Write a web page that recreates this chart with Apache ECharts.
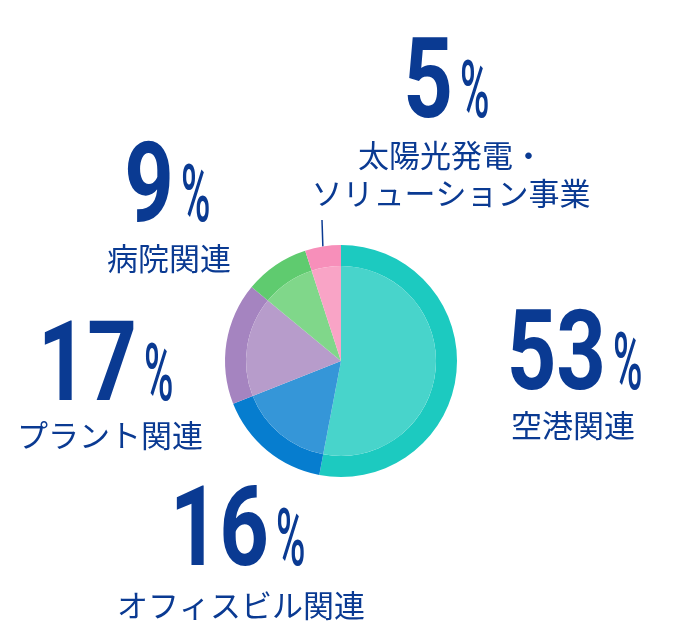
<!DOCTYPE html>
<html><head><meta charset="utf-8">
<script src="https://cdn.jsdelivr.net/npm/echarts@6/dist/echarts.min.js"></script>
<style>html,body{margin:0;padding:0;background:#fff}#c{width:680px;height:640px}</style>
</head><body><div id="c"></div>
<script>
const categories = ['空港関連', 'オフィスビル関連', 'プラント関連', '病院関連', '太陽光発電・\nソリューション事業'];
const values = [53, 16, 17, 9, 5];
const outerColors = ['#1ccac0', '#067dcf', '#a584c0', '#5fcb6f', '#f78fba'];
const innerColors = ['#48d4cb', '#3596d8', '#b79ccb', '#80d78a', '#f9a4c6'];

const TEXT = '#0a3a92';
// label layout: [split x between number and %, number centre y, name centre x, name centre y]
const labelLayoutPos = [
  [609, 350, 573, 425],
  [272, 526, 241, 605],
  [140, 361, 110, 435],
  [177, 182, 169, 258],
  [456, 78, 451, 174]
];

const outerData = categories.map((c, i) => ({
  name: c, value: values[i],
  itemStyle: { color: outerColors[i] },
  label: { show: i === 4 },
  labelLine: { show: i === 4 }
}));
const innerData = categories.map((c, i) => ({
  name: c, value: values[i], itemStyle: { color: innerColors[i] }
}));
const labelData = categories.map((c, i) => ({ name: c, value: values[i] }));

const chart = echarts.init(document.getElementById('c'), null, { renderer: 'canvas' });
chart.setOption({
  animation: false,
  series: [
    {
      type: 'pie', center: [341, 361], radius: [0, 95],
      silent: true, label: { show: false }, labelLine: { show: false },
      data: innerData, z: 3
    },
    {
      type: 'pie', center: [341, 361], radius: [95, 116],
      silent: true, data: outerData, z: 2,
      label: { show: false, formatter: ' ', fontSize: 4 },
      labelLine: { show: false, length: 27, length2: 0, lineStyle: { color: TEXT, width: 1.5 } },
      labelLayout: p => (p.dataIndex === 4 ? { x: 322, y: 220, align: 'center', verticalAlign: 'bottom' } : {})
    },
    {
      type: 'custom', coordinateSystem: 'none', silent: true, z: 5,
      data: labelData,
      renderItem: (params, api) => {
        const i = params.dataIndex;
        const L = labelLayoutPos[i];
        const v = api.value(0);
        const name = labelData[i].name;
        return {
          type: 'group',
          children: [
            {
              type: 'text', x: L[0] - 3, y: L[1] + 11, scaleX: 0.78,
              style: { text: String(v), fontFamily: 'Roboto', fontWeight: 'bold', fontSize: 111,
                fill: TEXT, align: 'right', verticalAlign: 'middle' }
            },
            {
              type: 'text', x: L[0] + 4, y: L[1] + 19, scaleX: 0.5,
              style: { text: '%', fontFamily: 'Roboto', fontWeight: 500, fontSize: 80,
                fill: TEXT, align: 'left', verticalAlign: 'middle' }
            },
            {
              type: 'text', x: L[2], y: L[3],
              style: { text: name, fontFamily: '"Noto Sans CJK JP"', fontSize: 31, lineHeight: 38,
                fill: TEXT, align: 'center', verticalAlign: 'middle' }
            }
          ]
        };
      }
    }
  ]
});
</script></body></html>
